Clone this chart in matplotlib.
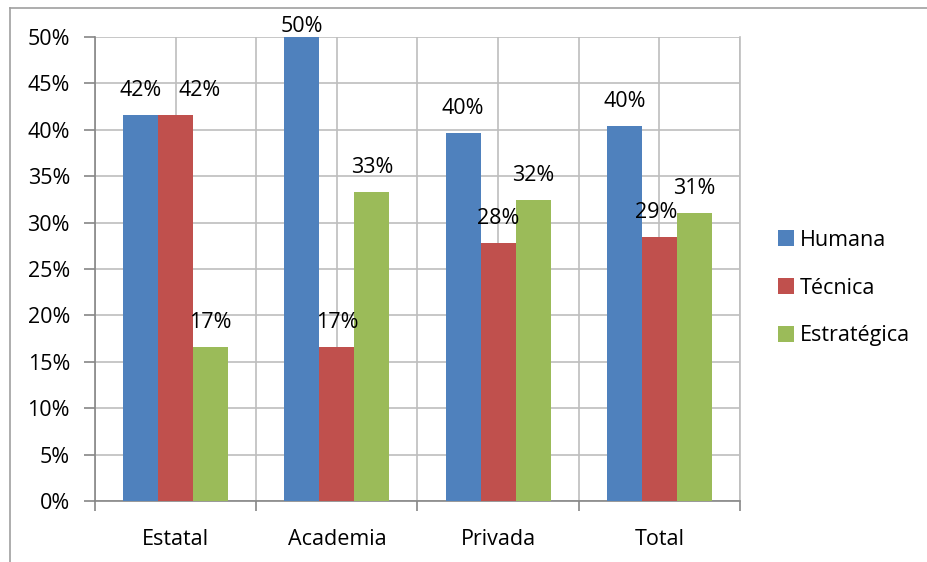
"""Competencias por sector: grouped bar chart."""

import matplotlib
matplotlib.use("Agg")
from matplotlib import pyplot as plt
from matplotlib.lines import Line2D
import numpy as np

categories = ["Estatal", "Academia", "Privada", "Total"]
series_names = ["Humana", "Técnica", "Estratégica"]
humana = [41.6, 50.0, 39.7, 40.4]
tecnica = [41.6, 16.6, 27.8, 28.5]
estrategica = [16.6, 33.3, 32.4, 31.0]
colors = ["#4F81BD", "#C0504D", "#9BBB59"]
y_ticks = list(range(0, 51, 5))

# label nudges (points) where the labels would collide
nudge = {("Técnica", "Estatal"): 17, ("Técnica", "Total"): -2}

plt.rcParams["font.family"] = ["Open Sans", "DejaVu Sans"]
plt.rcParams["font.size"] = 15.5

fig = plt.figure(figsize=(9.27, 5.62), dpi=100)
ax = fig.add_axes([95 / 927, 1 - 501 / 562, 645 / 927, 464 / 562])

x = np.arange(len(categories))
width = 0.217
values = [humana, tecnica, estrategica]
ymax = 50
pad = 1.5

for i, (name, vals) in enumerate(zip(series_names, values)):
    pos = x + (i - 1) * width
    ax.bar(pos, vals, width, color=colors[i], label=name, zorder=3)
    for cat, px, v in zip(categories, pos, vals):
        y = v + pad if v + pad < ymax else v
        ax.annotate(f"{int(v + 0.5)}%", (px, y), xytext=(nudge.get((name, cat), 0), 0),
                    textcoords="offset points", ha="center", va="bottom",
                    fontsize=15.5, zorder=4, annotation_clip=False)

ax.set_xlim(-0.5, len(categories) - 0.5)
ax.set_ylim(0, ymax)
ax.set_yticks(y_ticks)
ax.set_yticklabels([f"{t}%" for t in y_ticks])

# boundaries as major ticks, category names as minor ticks
ax.set_xticks(np.arange(-0.5, len(categories), 1.0))
ax.set_xticklabels([])
ax.set_xticks(x, minor=True)
ax.set_xticklabels(categories, minor=True)

ax.tick_params(axis="x", which="major", direction="out", length=7,
               color="#868686", width=1.2)
ax.tick_params(axis="x", which="minor", length=0, pad=20)
ax.tick_params(axis="y", direction="out", length=8, color="#868686",
               width=1.2, pad=10)

ax.grid(True, which="both", axis="x", color="#BEBEBE", linewidth=1.2, zorder=0)
ax.grid(True, which="major", axis="y", color="#BEBEBE", linewidth=1.2, zorder=0)
ax.set_axisbelow(True)

ax.spines["top"].set_visible(False)
ax.spines["right"].set_color("#BEBEBE")
ax.spines["right"].set_linewidth(1.2)
for side in ["left", "bottom"]:
    ax.spines[side].set_color("#868686")
    ax.spines[side].set_linewidth(1.2)

ax.legend(loc="center left", bbox_to_anchor=(1.045, 0.459), frameon=False,
          handlelength=0.75, handleheight=0.75, handletextpad=0.3,
          labelspacing=1.25, fontsize=15.5, borderaxespad=0)

# outer chart frame (cut off at right and bottom)
fig.add_artist(Line2D([10 / 927, 1], [1 - 8 / 562] * 2, color="#A0A0A0", lw=1.2))
fig.add_artist(Line2D([10 / 927] * 2, [0, 1 - 8 / 562], color="#A0A0A0", lw=1.2))

fig.savefig("out.png", dpi=100)
